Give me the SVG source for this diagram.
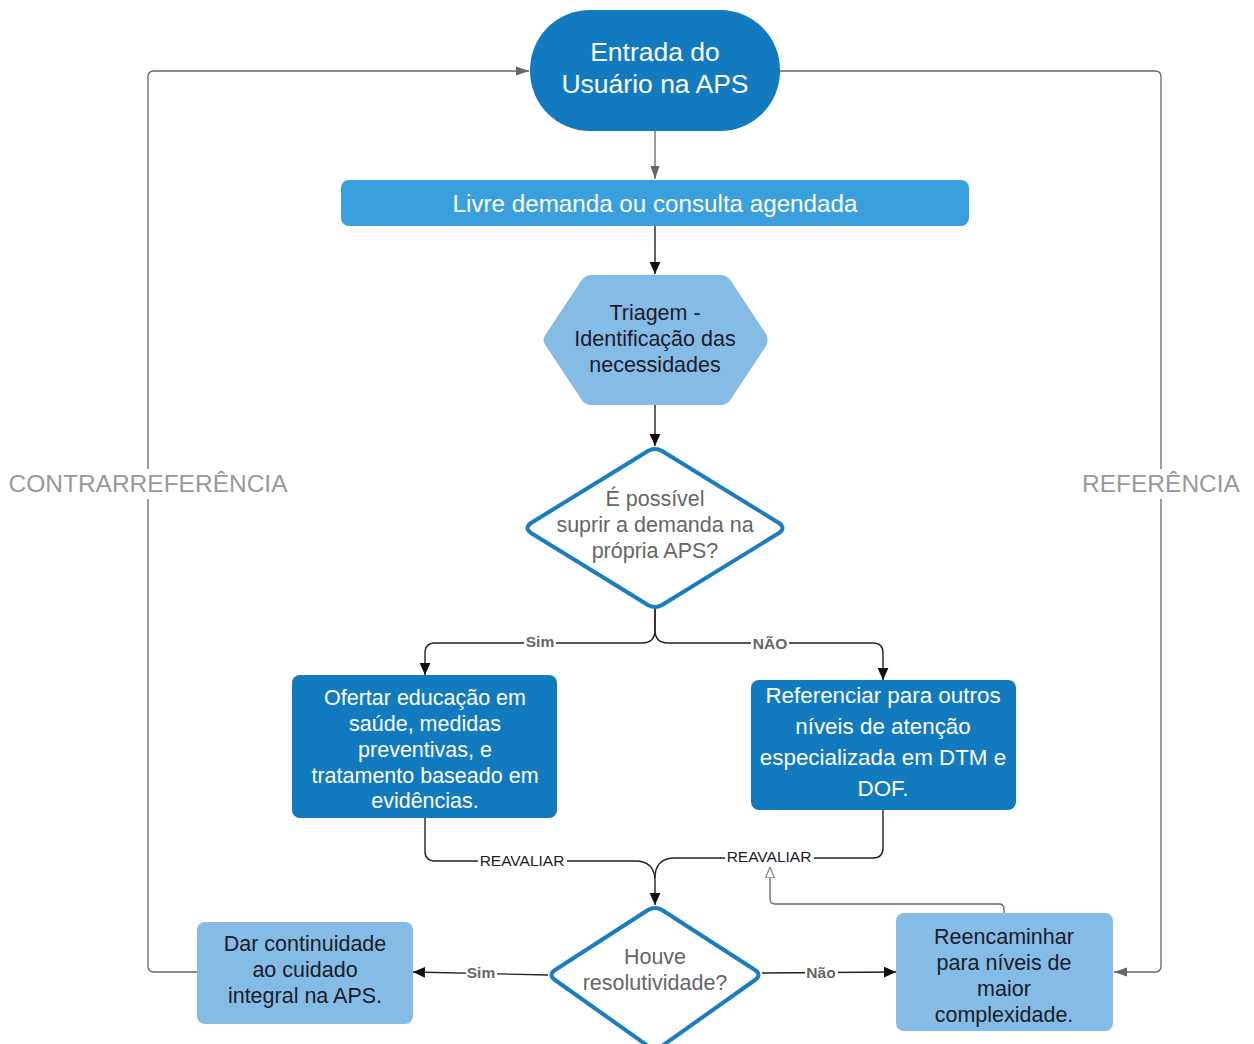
<svg xmlns="http://www.w3.org/2000/svg" width="1254" height="1044" viewBox="0 0 1254 1044">
<style>
text{font-family:"Liberation Sans",Arial,sans-serif;text-anchor:middle;dominant-baseline:central}
.w{fill:#ffffff}
.d{fill:#1b1b2a}
.g{fill:#666666}
.dark{fill:#127abe}
.mid{fill:#3aa0dd}
.light{fill:#85bce6}
.blk{fill:none;stroke:#222222;stroke-width:1.4}
.gry{fill:none;stroke:#666666;stroke-width:1.3}
.lbl{font-size:15.5px}
.side{font-size:24.5px;fill:#999999}
.t{font-size:21.5px}
</style>
<defs>
<marker id="ab" viewBox="0 0 10 10" refX="10" refY="5" markerWidth="12" markerHeight="12" markerUnits="userSpaceOnUse" orient="auto"><path d="M0,0.5 L10,5 L0,9.5 z" fill="#111"/></marker>
<marker id="ag" viewBox="0 0 10 10" refX="10" refY="5" markerWidth="13" markerHeight="13" markerUnits="userSpaceOnUse" orient="auto"><path d="M0,1.5 L10,5 L0,8.5 z" fill="#666"/></marker>
<marker id="ah" viewBox="0 0 10 10" refX="10" refY="5" markerWidth="11" markerHeight="11" markerUnits="userSpaceOnUse" orient="auto"><path d="M0,1 L10,5 L0,9 z" fill="#fff" stroke="#888" stroke-width="1.2"/></marker>
</defs>
<rect width="1254" height="1044" fill="#ffffff"/>
<g id="connectors">
<path class="gry" d="M655,131 V179" marker-end="url(#ag)"/>
<path class="blk" d="M655,226 V274" marker-end="url(#ab)"/>
<path class="blk" d="M655,405 V446" marker-end="url(#ab)"/>
<path class="blk" d="M655,609 V630 Q655,643 642,643 H435 Q425,643 425,653 V675" marker-end="url(#ab)"/>
<path class="blk" d="M655,609 V630 Q655,643 668,643 H873 Q883,643 883,653 V680" marker-end="url(#ab)"/>
<path class="blk" d="M425,818 V851 Q425,861 435,861 H635 Q655,861 655,881 V905" marker-end="url(#ab)"/>
<path class="blk" d="M883,810 V848 Q883,858 873,858 H675 Q655,858 655,878"/>
<path class="gry" d="M1004,913 V909 Q1004,904 999,904 H775 Q770,904 770,899 V867" marker-end="url(#ah)"/>
<path class="blk" d="M548,975 L413,972" marker-end="url(#ab)"/>
<path class="blk" d="M762,973 L896,972" marker-end="url(#ab)"/>
<path class="gry" d="M197,972 H154 Q148,972 148,966 V77 Q148,71 154,71 H529" marker-end="url(#ag)"/>
<path class="gry" d="M780,71 H1155 Q1161,71 1161,77 V966 Q1161,972 1155,972 H1114" marker-end="url(#ag)"/>
<rect x="524" y="633" width="32" height="16" fill="#fff"/>
<text x="540" y="641" class="lbl g" font-weight="bold">Sim</text>
<rect x="751" y="635" width="38" height="16" fill="#fff"/>
<text x="770" y="643" class="lbl g" font-weight="bold">NÃO</text>
<rect x="478" y="852" width="89" height="16" fill="#fff"/>
<text x="522" y="860" class="lbl d">REAVALIAR</text>
<rect x="725" y="848" width="89" height="16" fill="#fff"/>
<text x="769" y="856" class="lbl d">REAVALIAR</text>
<rect x="466" y="964" width="31" height="16" fill="#fff"/>
<text x="481" y="972" class="lbl g" font-weight="bold">Sim</text>
<rect x="805" y="964" width="33" height="16" fill="#fff"/>
<text x="821" y="972" class="lbl g" font-weight="bold">Não</text>
<rect x="8" y="469" width="281" height="30" fill="#fff"/>
<text x="148" y="483" class="side">CONTRARREFERÊNCIA</text>
<rect x="1081" y="469" width="162" height="30" fill="#fff"/>
<text x="1161" y="483" class="side">REFERÊNCIA</text>
</g>
<g id="entrada">
<rect x="530" y="10" width="250" height="121" rx="60" class="dark"/>
<text x="655" y="52" class="w" font-size="26.5">Entrada do</text>
<text x="655" y="84" class="w" font-size="26.5">Usuário na APS</text>
</g>
<g id="livre">
<rect x="341" y="180" width="628" height="46" rx="8" class="mid"/>
<text x="655" y="203" class="w" font-size="24.2">Livre demanda ou consulta agendada</text>
</g>
<g id="triagem">
<path d="M591,275 H721 Q727,275 731,281 L766,334 Q769,340 766,346 L731,399 Q727,405 721,405 H591 Q585,405 581,399 L546,346 Q541,340 546,334 L581,281 Q585,275 591,275 Z" class="light"/>
<text x="655" y="313" class="d t">Triagem -</text>
<text x="655" y="339" class="d t">Identificação das</text>
<text x="655" y="365" class="d t">necessidades</text>
</g>
<g id="decisao1">
<path d="M648,451 Q655,447 662,451 L779,523 Q786,528 779,533 L662,605 Q655,609 648,605 L531,533 Q524,528 531,523 Z" fill="#fff" stroke="#1a7dc0" stroke-width="4" stroke-linejoin="round"/>
<text x="655" y="499" class="g t">É possível</text>
<text x="655" y="525" class="g t">suprir a demanda na</text>
<text x="655" y="551" class="g t">própria APS?</text>
</g>
<g id="ofertar">
<rect x="292" y="675" width="265" height="143" rx="8" class="dark"/>
<text x="425" y="698" class="w t">Ofertar educação em</text>
<text x="425" y="724" class="w t">saúde, medidas</text>
<text x="425" y="750" class="w t">preventivas, e</text>
<text x="425" y="776" class="w t">tratamento baseado em</text>
<text x="425" y="801" class="w t">evidências.</text>
</g>
<g id="referenciar">
<rect x="751" y="680" width="265" height="130" rx="8" class="dark"/>
<text x="883" y="695" class="w" font-size="22.4">Referenciar para outros</text>
<text x="883" y="726" class="w" font-size="22.4">níveis de atenção</text>
<text x="883" y="757" class="w" font-size="22.4">especializada em DTM e</text>
<text x="883" y="788" class="w" font-size="22.4">DOF.</text>
</g>
<g id="decisao2">
<path d="M648,910 Q655,906 662,910 L755,970 Q762,975 755,980 L662,1046 Q655,1051 648,1046 L555,980 Q548,975 555,970 Z" fill="#fff" stroke="#1a7dc0" stroke-width="4" stroke-linejoin="round"/>
<text x="655" y="957" class="g t">Houve</text>
<text x="655" y="983" class="g t">resolutividade?</text>
</g>
<g id="continuidade">
<rect x="197" y="922" width="216" height="102" rx="8" class="light"/>
<text x="305" y="944" class="d t">Dar continuidade</text>
<text x="305" y="970" class="d t">ao cuidado</text>
<text x="305" y="996" class="d t">integral na APS.</text>
</g>
<g id="reencaminhar">
<rect x="896" y="913" width="217" height="118" rx="8" class="light"/>
<text x="1004" y="937" class="d t">Reencaminhar</text>
<text x="1004" y="963" class="d t">para níveis de</text>
<text x="1004" y="989" class="d t">maior</text>
<text x="1004" y="1015" class="d t">complexidade.</text>
</g>
</svg>
